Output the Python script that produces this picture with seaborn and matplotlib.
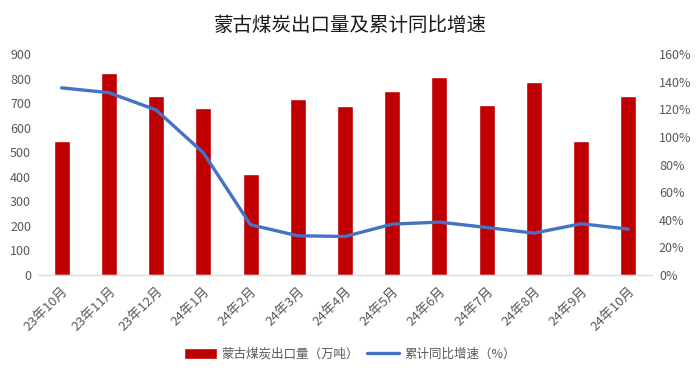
import pandas as pd
import seaborn as sns
import matplotlib.pyplot as plt
from matplotlib.ticker import PercentFormatter, MultipleLocator

months = ['23年10月', '23年11月', '23年12月', '24年1月', '24年2月', '24年3月', '24年4月',
          '24年5月', '24年6月', '24年7月', '24年8月', '24年9月', '24年10月']
exports = [547, 823, 727, 682, 412, 718, 690, 751, 808, 692, 788, 547, 727]
growth = [135.5, 132, 119.5, 88.5, 36.4, 28.4, 27.9, 36.8, 38.3, 34.4, 30.3, 37.1, 33.2]

df = pd.DataFrame({'month': months, 'exports': exports, 'growth': growth})
df['pos'] = range(len(df))

sns.set_style("white")
plt.rcParams['font.family'] = ['Noto Sans CJK SC', 'DejaVu Sans']

fig = plt.figure(figsize=(7, 3.76), dpi=100)
ax = fig.add_axes([38 / 700, 1 - 275 / 376, 614 / 700, 221 / 376])

sns.barplot(data=df, x='pos', y='exports', color='#C00000', width=0.34,
            saturation=1, ax=ax, label='蒙古煤炭出口量（万吨）')
if ax.get_legend() is not None:
    ax.get_legend().remove()
ax.set_ylim(0, 900)
ax.yaxis.set_major_locator(MultipleLocator(100))
ax.set_xticks(df['pos'])
ax.set_xticklabels(months, rotation=45, ha='right', rotation_mode='anchor')
ax.set_xlabel('')
ax.set_ylabel('')

ax2 = ax.twinx()
sns.lineplot(data=df, x='pos', y='growth', color='#4472C4', linewidth=2.4,
             ax=ax2, label='累计同比增速（%）', legend=False)
ax2.set_ylim(0, 160)
ax2.yaxis.set_major_locator(MultipleLocator(20))
ax2.yaxis.set_major_formatter(PercentFormatter(decimals=0))
ax2.set_ylabel('')
ax2.set_xlabel('')

for a in (ax, ax2):
    for s in ['top', 'left', 'right']:
        a.spines[s].set_visible(False)
    a.spines['bottom'].set_color('#D9D9D9')
    a.tick_params(axis='both', length=0, labelsize=9, colors='#595959', pad=5)
ax.tick_params(axis='x', pad=7, labelsize=9.5)
ax.set_xlim(-0.5, len(df) - 0.5)

fig.suptitle('蒙古煤炭出口量及累计同比增速', fontsize=14, fontweight='medium',
             y=0.96, color='#1a1a1a')

h1, l1 = ax.get_legend_handles_labels()
h2, l2 = ax2.get_legend_handles_labels()
fig.legend(h1 + h2, l1 + l2, loc='center', bbox_to_anchor=(0.5, 1 - 354 / 376),
           ncol=2, frameon=False, fontsize=9, labelcolor='#595959',
           handlelength=2.6, handleheight=1.0, columnspacing=0.6, handletextpad=0.4)

fig.savefig('out.png', dpi=100)
